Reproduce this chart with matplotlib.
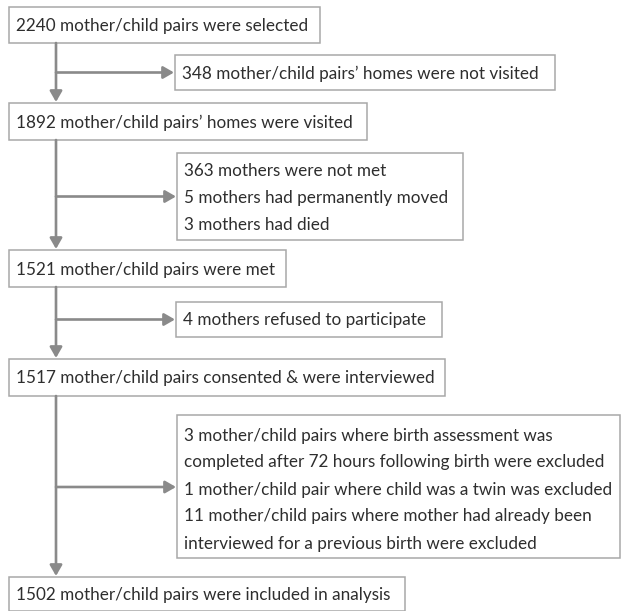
import matplotlib
matplotlib.use("Agg")
import matplotlib.pyplot as plt
from matplotlib.patches import Rectangle, FancyArrowPatch

# ---- content ----
main_steps = [
    "2240 mother/child pairs were selected",
    "1892 mother/child pairs\u2019 homes were visited",
    "1521 mother/child pairs were met",
    "1517 mother/child pairs consented & were interviewed",
    "1502 mother/child pairs were included in analysis",
]
exclusions = [
    ["348 mother/child pairs\u2019 homes were not visited"],
    ["363 mothers were not met",
     "5 mothers had permanently moved",
     "3 mothers had died"],
    ["4 mothers refused to participate"],
    ["3 mother/child pairs where birth assessment was",
     "completed after 72 hours following birth were excluded",
     "1 mother/child pair where child was a twin was excluded",
     "11 mother/child pairs where mother had already been",
     "interviewed for a previous birth were excluded"],
]

# ---- layout (pixels) ----
W, H = 624, 611
main_boxes = [(9, 7, 320, 43), (9, 103, 367, 140), (9, 250, 286, 287),
              (9, 359, 445, 396), (9, 577, 405, 611)]
excl_boxes = [(175, 55, 555, 90), (177, 153, 463, 240), (176, 302, 442, 337),
              (177, 415, 620, 558)]
spine_x = 56
line_h = 27.0

edge = "#a8a8a8"
arrow_c = "#8a8a8a"
txt_c = "#2e2e2e"
FONT = "Lato"
FS = 12.3

fig = plt.figure(figsize=(W / 100, H / 100), dpi=100)
ax = fig.add_axes([0, 0, 1, 1])
ax.set_xlim(0, W)
ax.set_ylim(H, 0)
ax.axis("off")


def box(b, lines):
    x0, y0, x1, y1 = b
    ax.add_patch(Rectangle((x0, y0), x1 - x0, y1 - y0, fill=False,
                           edgecolor=edge, linewidth=1.1))
    n = len(lines)
    cy = (y0 + y1) / 2 + 1 + (2 if n > 3 else 0)
    for i, t in enumerate(lines):
        y = cy + (i - (n - 1) / 2) * line_h
        ax.text(x0 + 7, y, t, ha="left", va="center", fontsize=FS,
                family=FONT, color=txt_c)


def arrow(p0, p1):
    ax.add_patch(FancyArrowPatch(p0, p1, arrowstyle="-|>,head_length=4,head_width=2.3",
                                 color=arrow_c, linewidth=1.9,
                                 shrinkA=0, shrinkB=0, mutation_scale=1.6))


for b, t in zip(main_boxes, main_steps):
    box(b, [t])
for b, t in zip(excl_boxes, exclusions):
    box(b, t)

for i in range(len(main_boxes) - 1):
    top = main_boxes[i][3]
    nxt = main_boxes[i + 1][1]
    arrow((spine_x, top), (spine_x, nxt - 1))
    eb = excl_boxes[i]
    ym = (eb[1] + eb[3]) / 2
    if i == 3:
        ym = 487
    arrow((spine_x, ym), (eb[0] - 1, ym))

fig.savefig("out.png", dpi=100, facecolor="white")
